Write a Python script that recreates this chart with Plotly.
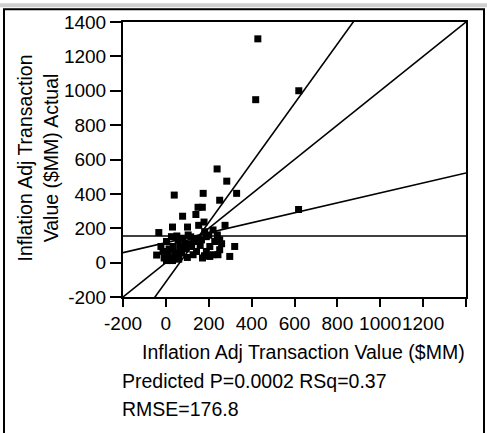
import plotly.graph_objects as go

# predicted (x) vs actual (y) transaction values, $MM
x_vals = [429, 419, 620, 619, 239, 284, 39, 174, 330, 251, 150, 170, 78, 140, 178, 31, 101, 153,
          220, 276, -33, 51, 116, 189, 240, -23, 321, 298, -43, -8, 19, 3, 31, 73, 171, 220, 251,
          205, 143, 88, 57, 34, 143, 166, 228, 251, 181, 104, 80, 3, 26, -13, 120, 127, 189, 243,
          205, 65, 42, 11, 95, 110, 130, 160, 60, 45, 100, 150, 200, 260, 180, 15]
y_vals = [1302, 948, 1000, 309, 545, 474, 393, 403, 403, 363, 322, 322, 270, 280, 236, 207, 207, 217,
          190, 217, 175, 155, 150, 151, 161, 94, 94, 36, 44, 27, 27, 12, 12, 56, 27, 46, 75,
          94, 65, 113, 132, 94, 123, 132, 123, 132, 180, 161, 142, 123, 151, 65, 94, 46, 65, 46,
          36, 94, 56, 46, 80, 110, 130, 100, 20, 30, 30, 140, 160, 110, 40, 80]

# reference lines: (slope, intercept)
line_slopes = [1.0, 0.0, 0.29, 1.73]
line_intercepts = [0.0, 155.0, 116.0, -112.0]

x_ticks = [-200, 0, 200, 400, 600, 800, 1000, 1200, 1400]
x_tick_labels = ['-200', '0', '200', '400', '600', '800', '1000', '1200', '']
y_ticks = [-200, 0, 200, 400, 600, 800, 1000, 1200, 1400]
y_tick_labels = ['-200', '0', '200', '400', '600', '800', '1000', '1200', '1400']

W, H = 487, 433
L, R, T, B = 123, 21, 19, 136
pw, ph = W - L - R, H - T - B

fig = go.Figure()
for m, c in zip(line_slopes, line_intercepts):
    xs = [-200, 1400]
    fig.add_trace(go.Scatter(x=xs, y=[m * v + c for v in xs], mode='lines',
                             line=dict(color='black', width=1.6), hoverinfo='skip'))

fig.add_trace(go.Scatter(x=x_vals, y=y_vals, mode='markers',
                         marker=dict(symbol='square', size=7, color='black')))

font = 'Liberation Sans'
fig.update_layout(
    width=W, height=H, showlegend=False,
    margin=dict(l=L, r=R, t=T, b=B),
    paper_bgcolor='white', plot_bgcolor='white',
    font=dict(family=font, size=19.5, color='black'),
    xaxis=dict(range=[-200, 1400], tickvals=x_ticks, ticktext=x_tick_labels, tickfont=dict(size=19),
               tickangle=0,
               showgrid=False, zeroline=False, showline=True, linecolor='black', linewidth=2,
               mirror=True, ticks='outside', ticklen=8, tickwidth=2, tickcolor='black'),
    yaxis=dict(range=[-200, 1400], tickvals=y_ticks, ticktext=y_tick_labels, tickfont=dict(size=19),
               showgrid=False, zeroline=False, showline=True, linecolor='black', linewidth=2,
               mirror=True, ticks='outside', ticklen=11, tickwidth=2, tickcolor='black'),
)

def px_x(p):
    return (p - L) / pw

def px_y(p):
    return (H - B - p) / ph

fig.add_annotation(text='Inflation Adj Transaction Value ($MM)', xref='paper', yref='paper',
                   x=px_x(303), y=px_y(353), showarrow=False, xanchor='center', yanchor='middle')
fig.add_annotation(text='Predicted P=0.0002 RSq=0.37', xref='paper', yref='paper',
                   x=px_x(120), y=px_y(382), showarrow=False, xanchor='left', yanchor='middle')
fig.add_annotation(text='RMSE=176.8', xref='paper', yref='paper',
                   x=px_x(120), y=px_y(410), showarrow=False, xanchor='left', yanchor='middle')
fig.add_annotation(text='Inflation Adj Transaction<br>Value ($MM) Actual', xref='paper', yref='paper',
                   x=px_x(38), y=px_y(157), showarrow=False, textangle=-90,
                   xanchor='center', yanchor='middle')

# outer panel frame and grey strip at top
fig.add_shape(type='rect', xref='paper', yref='paper', x0=px_x(0), x1=px_x(487), y0=px_y(0), y1=px_y(4),
              fillcolor='#cfcfcf', line=dict(width=0), layer='below')
fig.add_shape(type='rect', xref='paper', yref='paper', x0=px_x(4), x1=px_x(484), y0=px_y(6), y1=px_y(440),
              line=dict(color='black', width=2))

# drop the default page margin so the figure sits at the window's corner
fig.write_html('out.html', config={'displayModeBar': False},
               post_script="document.body.style.margin='0';")
